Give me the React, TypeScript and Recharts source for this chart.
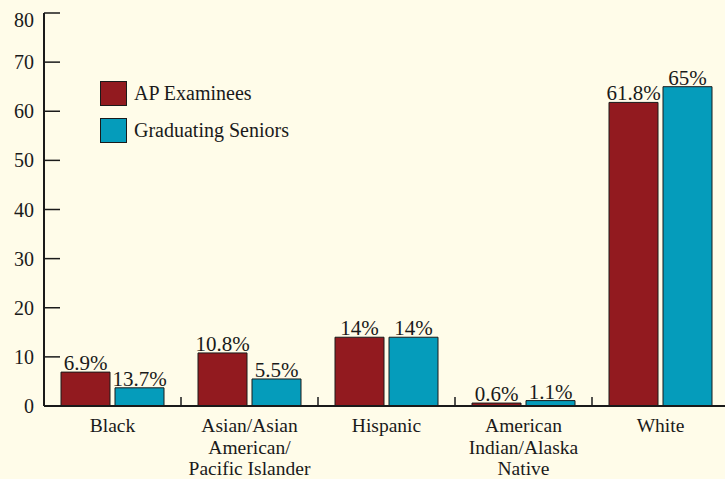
import React from 'react';
import { BarChart, Bar, XAxis, YAxis, LabelList } from 'recharts';

// Categories and values
const categories = [
  'Black',
  'Asian/Asian\nAmerican/\nPacific Islander',
  'Hispanic',
  'American\nIndian/Alaska\nNative',
  'White',
];
const apExaminees = [6.9, 10.8, 14, 0.6, 61.8];
const apLabels = ['6.9%', '10.8%', '14%', '0.6%', '61.8%'];
// drawn heights as they appear in the picture (Black bar is drawn at ~3.7)
const gradSeniors = [3.7, 5.5, 14, 1.1, 65];
const gradLabels = ['13.7%', '5.5%', '14%', '1.1%', '65%'];
const yTicks = [0, 10, 20, 30, 40, 50, 60, 70, 80];
const seriesNames = ['AP Examinees', 'Graduating Seniors'];

const data = categories.map((name, i) => ({
  name,
  ap: apExaminees[i],
  apLabel: apLabels[i],
  gs: gradSeniors[i],
  gsLabel: gradLabels[i],
}));

const FONT = '"Liberation Serif", "Times New Roman", serif';
const INK = '#1a1a1a';
const RED = '#921a1f';
const TEAL = '#059cbb';
const BG = '#fffce9';
const BAND = 137;

const YTick = (props: any) => {
  const { x, y, payload } = props;
  const shift = payload.value === 80 ? 7 : 0;
  return (
    <g>
      <line x1={x} x2={x + 16} y1={y} y2={y} stroke={INK} strokeWidth={1.5} />
      <text
        x={x - 10}
        y={y + shift}
        textAnchor="end"
        dominantBaseline="central"
        fontFamily={FONT}
        fontSize={20}
        fill={INK}
      >
        {payload.value}
      </text>
    </g>
  );
};

const XTick = (props: any) => {
  const { x, y, payload } = props;
  const lines = String(payload.value).split('\n');
  return (
    <g>
      <line x1={x + BAND / 2} x2={x + BAND / 2} y1={y} y2={y - 9} stroke={INK} strokeWidth={1.5} />
      {lines.map((l, i) => (
        <text
          key={i}
          x={x}
          y={y + 26 + i * 21.5}
          textAnchor="middle"
          fontFamily={FONT}
          fontSize={19.5}
          fill={INK}
        >
          {l}
        </text>
      ))}
    </g>
  );
};

const LegendBox = () => {
  const colors = [RED, TEAL];
  return (
    <div
      style={{
        position: 'absolute',
        left: 100,
        top: 81,
        fontFamily: FONT,
        fontSize: 20,
        color: INK,
      }}
    >
      {seriesNames.map((label, i) => (
        <div key={label} style={{ display: 'flex', alignItems: 'center', height: 25, marginBottom: 12 }}>
          <div
            style={{
              width: 25,
              height: 23,
              background: colors[i],
              border: `1px solid ${INK}`,
              marginRight: 7,
            }}
          />
          <span>{label}</span>
        </div>
      ))}
    </div>
  );
};

const App: React.FC = () => {
  return (
    <div
      style={{
        position: 'absolute',
        left: 0,
        top: 0,
        width: 725,
        height: 479,
        overflow: 'hidden',
        background: BG,
      }}
    >
      <BarChart
        width={735}
        height={479}
        data={data}
        margin={{ top: 13, right: 6, left: 0, bottom: 0 }}
        barSize={49}
        barGap={5}
      >
        <XAxis
          dataKey="name"
          height={73}
          interval={0}
          tickLine={false}
          tickSize={0}
          tickMargin={0}
          axisLine={{ stroke: INK, strokeWidth: 2 }}
          tick={<XTick />}
        />
        <YAxis
          width={44}
          domain={[0, 80]}
          ticks={yTicks}
          interval={0}
          tickLine={false}
          tickSize={0}
          tickMargin={0}
          axisLine={{ stroke: INK, strokeWidth: 2 }}
          tick={<YTick />}
        />
        <Bar dataKey="ap" name={seriesNames[0]} fill={RED} stroke={INK} strokeWidth={1} isAnimationActive={false}>
          <LabelList dataKey="apLabel" position="top" offset={2} fill={INK} fontSize={21} fontFamily={FONT} />
        </Bar>
        <Bar dataKey="gs" name={seriesNames[1]} fill={TEAL} stroke={INK} strokeWidth={1} isAnimationActive={false}>
          <LabelList dataKey="gsLabel" position="top" offset={2} fill={INK} fontSize={21} fontFamily={FONT} />
        </Bar>
      </BarChart>
      <LegendBox />
    </div>
  );
};

export default App;
